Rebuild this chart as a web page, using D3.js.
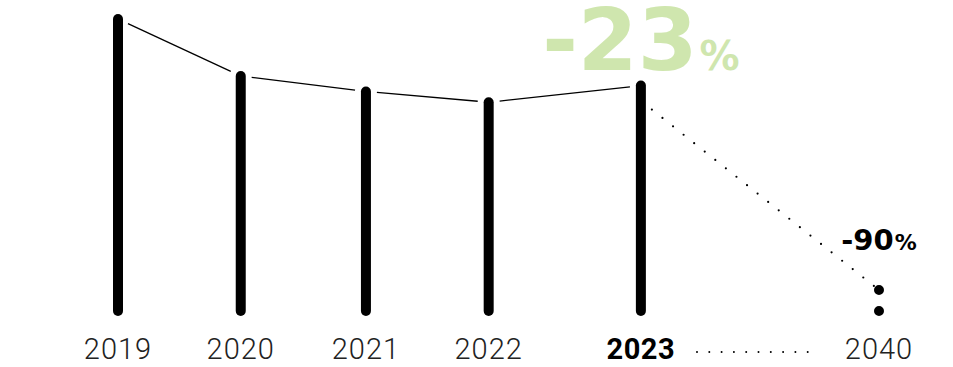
<!DOCTYPE html>
<html>
<head>
<meta charset="utf-8">
<script src="https://cdn.jsdelivr.net/npm/d3@7"></script>
<style>
  html, body { margin: 0; padding: 0; background: #fff; }
  svg { display: block; }
  .year { font-family: Roboto, "Open Sans", sans-serif; font-weight: 300; font-size: 29px; letter-spacing: 1px; fill: #222; }
  .year.current { font-weight: 700; fill: #000; letter-spacing: 0.5px; }
  .big { font-family: "DejaVu Sans", sans-serif; font-weight: 700; }
</style>
</head>
<body>
<svg id="chart" width="953" height="367"></svg>
<script>
// index, 2019 = 100
const years = ['2019', '2020', '2021', '2022', '2023', '2040'];
const values = [100, 80.5, 75.2, 71.5, 77.2, 10];
const slots = [0, 1, 2.02, 3.02, 4.26, 6.2];   // horizontal slot of each year
const currentYear = '2023';
const changeLabels = [{ year: '2023', text: '-23', unit: '%' }, { year: '2040', text: '-90', unit: '%' }];

const W = 953, H = 367;
const svg = d3.select('#chart');

const slotScale = d3.scaleLinear().domain([0, 6.2]).range([118, 879]);
const x = d => slotScale(slots[years.indexOf(d)]);
const y = d3.scaleLinear().domain([0, 100]).range([311, 19]);

const data = years.map((yr, i) => ({ year: yr, value: values[i], projected: +yr > +currentYear }));
const actual = data.filter(d => !d.projected);
const future = data.filter(d => d.projected);

// bars
svg.append('g').selectAll('line.bar').data(actual).join('line')
  .attr('class', 'bar')
  .attr('x1', d => x(d.year)).attr('x2', d => x(d.year))
  .attr('y1', y(0)).attr('y2', d => y(d.value))
  .attr('stroke', '#000').attr('stroke-width', 10).attr('stroke-linecap', 'round');

// projected bar as dots
svg.append('g').selectAll('line.proj').data(future).join('line')
  .attr('class', 'proj')
  .attr('x1', d => x(d.year)).attr('x2', d => x(d.year))
  .attr('y1', y(0)).attr('y2', d => y(d.value))
  .attr('stroke', '#000').attr('stroke-width', 10).attr('stroke-linecap', 'round')
  .attr('stroke-dasharray', '0,21');

// connecting lines, trimmed at both ends
const gap = 11;
const links = d3.pairs(actual);
svg.append('g').selectAll('line.link').data(links).join('line')
  .attr('class', 'link')
  .each(function([a, b]) {
    const x0 = x(a.year), y0 = y(a.value), x1 = x(b.year), y1 = y(b.value);
    const len = Math.hypot(x1 - x0, y1 - y0), ux = (x1 - x0) / len, uy = (y1 - y0) / len;
    d3.select(this)
      .attr('x1', x0 + ux * gap).attr('y1', y0 + uy * gap)
      .attr('x2', x1 - ux * gap).attr('y2', y1 - uy * gap);
  })
  .attr('stroke', '#000').attr('stroke-width', 1.3);

// dotted projection line
const last = actual[actual.length - 1], proj = future[0];
const topDot = y(0) - Math.floor((y(0) - y(proj.value)) / 21) * 21;
svg.append('line')
  .attr('x1', x(last.year) + 11).attr('y1', y(last.value) + 24)
  .attr('x2', x(proj.year)).attr('y2', topDot)
  .attr('stroke', '#000').attr('stroke-width', 2.2).attr('stroke-linecap', 'round')
  .attr('stroke-dasharray', '0,13.5');

// year labels
svg.append('g').selectAll('text.year').data(data).join('text')
  .attr('class', d => 'year' + (d.year === currentYear ? ' current' : ''))
  .attr('x', d => x(d.year)).attr('y', 359)
  .attr('text-anchor', 'middle')
  .text(d => d.year);

// dots between current and projected labels
svg.append('line')
  .attr('x1', 697).attr('x2', 808).attr('y1', 352).attr('y2', 352)
  .attr('stroke', '#000').attr('stroke-width', 2).attr('stroke-linecap', 'round')
  .attr('stroke-dasharray', '0,12.3');

// change labels
const big = svg.append('text').attr('class', 'big')
  .attr('x', x(changeLabels[0].year)).attr('y', 70).attr('text-anchor', 'middle')
  .attr('fill', '#cfe6ae');
big.append('tspan').attr('font-size', 86).attr('letter-spacing', 0).text(changeLabels[0].text);
big.append('tspan').attr('font-size', 40).attr('dx', 2).text(changeLabels[0].unit);

const small = svg.append('text').attr('class', 'big')
  .attr('x', x(changeLabels[1].year)).attr('y', 250).attr('text-anchor', 'middle')
  .attr('fill', '#000');
small.append('tspan').attr('font-size', 29).attr('letter-spacing', 0).text(changeLabels[1].text);
small.append('tspan').attr('font-size', 22).attr('dx', 1).text(changeLabels[1].unit);
</script>
</body>
</html>
